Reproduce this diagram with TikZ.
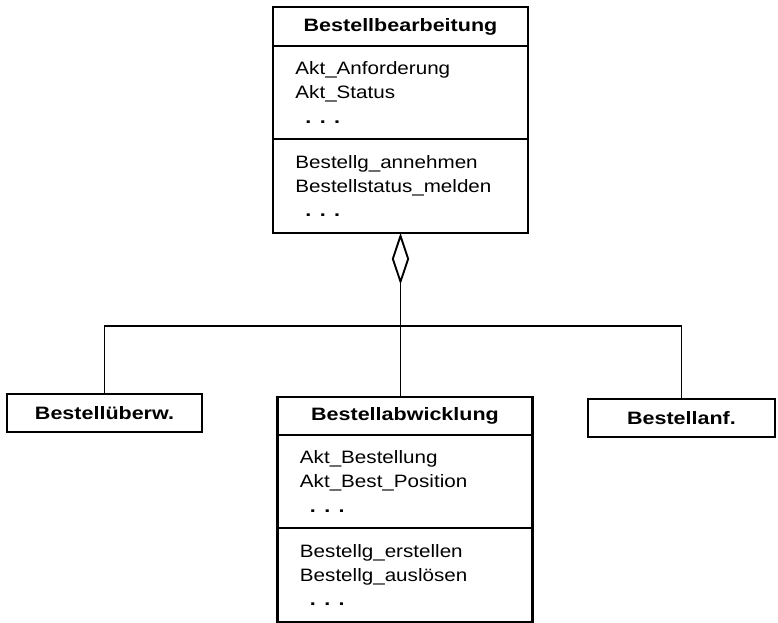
\documentclass[tikz,border=0pt]{standalone}
\usepackage{fontspec}
\setmainfont{Liberation Sans}[FakeStretch=1.15,BoldFeatures={FakeStretch=1.2}]
\usepackage{tikz}
\usetikzlibrary{arrows.meta,positioning}

\newcommand{\boxfont}{\fontsize{15.3}{20.5}\selectfont}
\newcommand{\etcdots}{\hspace*{0.3cm}\textbf{.}\hspace{0.25cm}\textbf{.}\hspace{0.25cm}\textbf{.}}

\begin{document}
\begin{tikzpicture}[x=0.03cm, y=-0.03cm,
  hdr/.style={draw, line width=2pt, outer sep=0pt, minimum width=7.64cm, minimum height=1.14cm, font=\boxfont\bfseries},
  cmp/.style={draw, line width=2pt, outer sep=0pt, text width=6.3cm, inner xsep=0.67cm, align=left, font=\boxfont},
  conn/.style={line width=1.6pt},
]
\useasboundingbox (0,0) rectangle (778,623);

% --- Bestellbearbeitung ---
\node[hdr, anchor=north, minimum height=1.17cm] (bb) at (400.5,7) {Bestellbearbeitung};
\node[cmp, below=0pt of bb, minimum height=2.79cm] (bbA) {Akt\_Anforderung\\Akt\_Status\\\etcdots};
\node[cmp, below=0pt of bbA, minimum height=2.82cm] (bbO) {Bestellg\_annehmen\\Bestellstatus\_melden\\\etcdots};

% --- Teilklassen ---
\node[hdr, anchor=north, minimum width=5.85cm] (ueb) at (104.5,394) {Bestellüberw.};
\node[hdr, anchor=north] (abw) at (405,397) {Bestellabwicklung};
\node[cmp, below=0pt of abw, minimum height=2.79cm] (abwA) {Akt\_Bestellung\\Akt\_Best\_Position\\\etcdots};
\node[cmp, below=0pt of abwA, minimum height=2.82cm] (abwO) {Bestellg\_erstellen\\Bestellg\_auslösen\\\etcdots};
\node[hdr, anchor=north, minimum width=5.61cm] (anf) at (681.5,399) {Bestellanf.};

% --- Aggregation ---
\path (bbO.south) ++(0,93) coordinate (hub);
\draw[conn, {Diamond[open, length=1.55cm, width=0.52cm]}-] (bbO.south) -- (hub);
\draw[conn] (ueb.north) |- (hub) -| (anf.north);
\draw[conn] (hub) -- (hub |- abw.north);

\end{tikzpicture}
\end{document}
